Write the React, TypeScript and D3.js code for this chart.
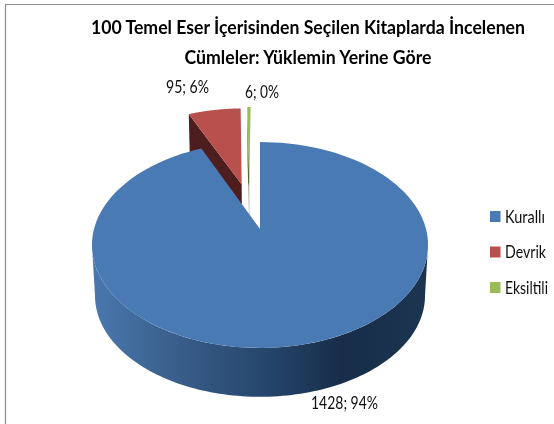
import React from "react";
import * as d3 from "d3";

const categories = ["Kurallı", "Devrik", "Eksiltili"];
const values = [1428, 95, 6];
const labels = ["1428; 94%", "95; 6%", "6; 0%"];
const colors = ["#4a7ab4", "#b8504d", "#9bbb59"];
const sideColors = ["#27476e", "#4e1d1d", "#56662f"];
const titleLines = ["100 Temel Eser İçerisinden Seçilen Kitaplarda İncelenen", "Cümleler: Yüklemin Yerine Göre"];
const explodeAmount = [0, 0.49, 0.5];
const explodeDirection = [0, -14, -8];

const W = 554, H = 424, CX = 260, TOP_APEX = 229, BOTTOM_APEX = 280, D = 6.44, F = 1069, G = 647, LOWER = 0.982;

const arcs = d3.pie<number>().sort(null).startAngle(0).endAngle(2 * Math.PI)(values);
const rad = (deg: number) => (deg * Math.PI) / 180;

function project(X: number, Y: number, lower = false): [number, number] {
  const s = lower ? LOWER : 1;
  const k = D + Y;
  return [CX + (s * F * X) / k, (lower ? BOTTOM_APEX : TOP_APEX) - (s * G * Y) / k];
}
const line = d3.line<[number, number]>().curve(d3.curveLinear);

function rim(a0: number, a1: number, ox: number, oy: number, lower = false) {
  return d3.range(0, 121).map((i) => {
    const a = a0 + ((a1 - a0) * i) / 120;
    return project(ox + Math.sin(a), oy + Math.cos(a), lower);
  });
}
function offset(i: number) {
  const dir = rad(explodeDirection[i]);
  return [explodeAmount[i] * Math.sin(dir), explodeAmount[i] * Math.cos(dir)];
}
function face(i: number) {
  const [ox, oy] = offset(i);
  return line([project(ox, oy), ...rim(arcs[i].startAngle, arcs[i].endAngle, ox, oy)])! + "Z";
}
// the cut face on the clockwise-leading edge of an exploded slice
function cut(i: number) {
  const [ox, oy] = offset(i);
  const a = arcs[i].startAngle;
  const outer = [ox + Math.sin(a), oy + Math.cos(a)];
  return line([
    project(ox, oy),
    project(outer[0], outer[1]),
    project(outer[0], outer[1], true),
    project(ox, oy, true),
  ])! + "Z";
}
const wallStart = rad(99), wallEnd = rad(261);
const wall = line([...rim(wallStart, wallEnd, 0, 0), ...rim(wallEnd, wallStart, 0, 0, true)])! + "Z";

const legendY = d3.scalePoint<string>().domain(categories).range([216.5, 287.5]);
const legendWidths = [40, 41, 43];

export default function App() {
  const font = "Lato, Carlito, Calibri, sans-serif";
  const squeeze = { lengthAdjust: "spacingAndGlyphs" } as const;
  return (
    <svg width={W} height={H} viewBox={`0 0 ${W} ${H}`} style={{ position: "absolute", left: 0, top: 0, background: "#fff" }} fontFamily={font}>
      <defs>
        <linearGradient id="wall" gradientUnits="userSpaceOnUse" x1="92" x2="429" y1="0" y2="0">
          <stop offset="0" stopColor="#4a78ae" />
          <stop offset="0.23" stopColor="#3a608c" />
          <stop offset="0.5" stopColor="#27476e" />
          <stop offset="0.74" stopColor="#172d49" />
          <stop offset="1" stopColor="#1c3551" />
        </linearGradient>
        <linearGradient id="greenCut" gradientUnits="userSpaceOnUse" x1="0" x2="0" y1="150" y2="215">
          <stop offset="0" stopColor="#56662f" />
          <stop offset="0.5" stopColor="#56662f" />
          <stop offset="0.55" stopColor="#a3a896" />
          <stop offset="1" stopColor="#a3a896" />
        </linearGradient>
        <filter id="soft" x="-5%" y="-20%" width="110%" height="140%">
          <feGaussianBlur stdDeviation="0.3" />
        </filter>
      </defs>
      <path d={`M5.5 ${H}V4.5H${W}`} fill="none" stroke="#8c8c8c" strokeWidth={1.2} />
      <g filter="url(#soft)">
        <text x={308} y={34} textAnchor="middle" fontSize={19.5} fontWeight={700} fill="#000" textLength={434} {...squeeze}>{titleLines[0]}</text>
        <text x={308} y={64} textAnchor="middle" fontSize={19.5} fontWeight={700} fill="#000" textLength={247} {...squeeze}>{titleLines[1]}</text>
        <text x={344.5} y={409} textAnchor="middle" fontSize={16.5} fill="#111" textLength={67} {...squeeze}>{labels[0]}</text>
        <text x={187.5} y={93} textAnchor="middle" fontSize={16.5} fill="#111" textLength={43} {...squeeze}>{labels[1]}</text>
        <text x={262} y={98} textAnchor="middle" fontSize={16.5} fill="#111" textLength={34} {...squeeze}>{labels[2]}</text>
        {categories.map((c, i) => (
          <text key={c} x={505} y={legendY(c)! + 6} fontSize={16.5} fill="#111" textLength={legendWidths[i]} {...squeeze}>{c}</text>
        ))}
      </g>

      <path d={cut(2)} fill="url(#greenCut)" />
      <path d={face(2)} fill={colors[2]} />
      <path d={cut(1)} fill={sideColors[1]} />
      <path d={face(1)} fill={colors[1]} />
      <path d={wall} fill="url(#wall)" />
      <path d={face(0)} fill={colors[0]} />

      {categories.map((c, i) => (
        <rect key={c} x={490} y={legendY(c)! - 5.5} width={10.5} height={11} fill={colors[i]} />
      ))}
    </svg>
  );
}
